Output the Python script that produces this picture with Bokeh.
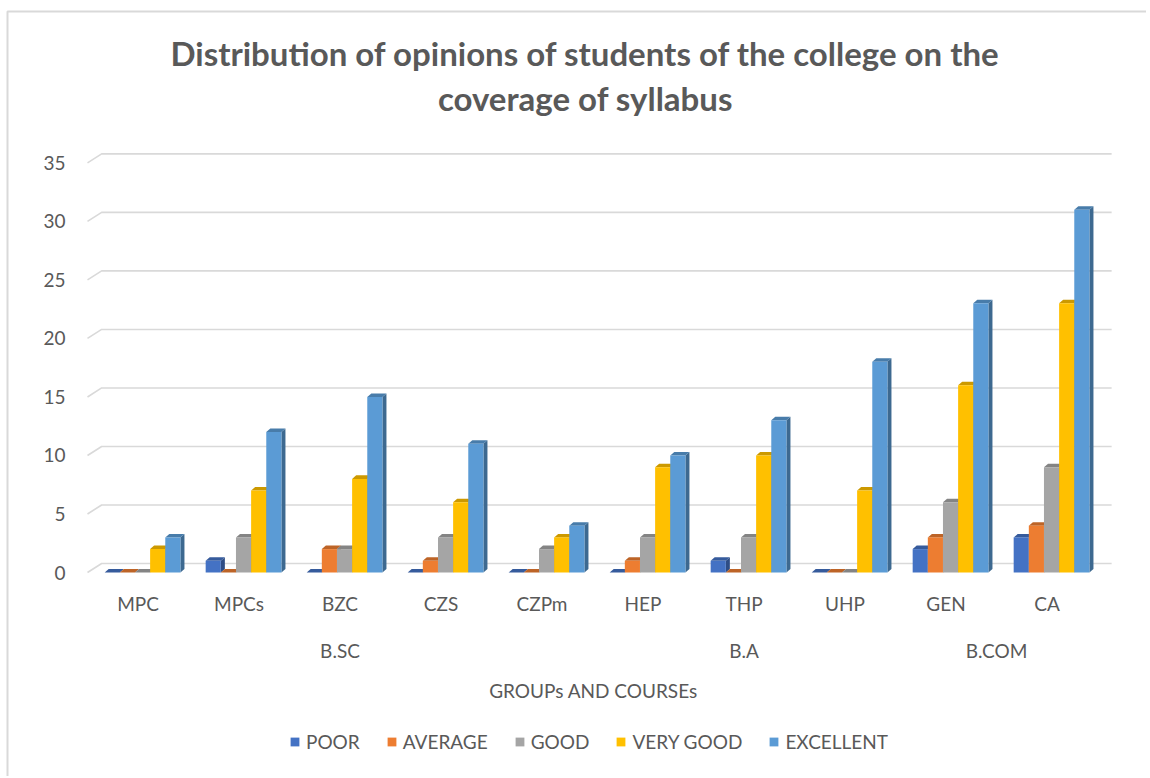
import numpy as np
from bokeh.plotting import figure
from bokeh.models import Range1d, FixedTicker, LinearAxis, Legend, LegendItem
from bokeh.core.properties import value
from bokeh.embed import file_html
from bokeh.resources import INLINE

# ---------------- data ----------------
categories = ["MPC", "MPCs", "BZC", "CZS", "CZPm", "HEP", "THP", "UHP", "GEN", "CA"]
groups = ["B.SC", "B.A", "B.COM"]
group_members = [["MPC", "MPCs", "BZC", "CZS", "CZPm"], ["HEP", "THP", "UHP"], ["GEN", "CA"]]
series_names = ["POOR", "AVERAGE", "GOOD", "VERY GOOD", "EXCELLENT"]
poor = [0, 1, 0, 0, 0, 0, 1, 0, 2, 3]
average = [0, 0, 2, 1, 0, 1, 0, 0, 3, 4]
good = [0, 3, 2, 3, 2, 3, 3, 0, 6, 9]
very_good = [2, 7, 8, 6, 3, 9, 10, 7, 16, 23]
excellent = [3, 12, 15, 11, 4, 10, 13, 18, 23, 31]
y_ticks = [0, 5, 10, 15, 20, 25, 30, 35]
title_lines = ["Distribution of opinions of students of the college on the",
               "coverage of syllabus"]
x_title = "GROUPs AND COURSEs"

# ---------------- style / layout ----------------
colors = ["#4472C4", "#ED7D31", "#A5A5A5", "#FFC000", "#5B9BD5"]
TEXT = "#595959"
GRID = "#D9D9D9"
FONT = "Lato"
W, H = 1146, 776          # canvas size (px)
X0PX, PXX = 87.0, 101.0   # pixel of category-axis start, px per category
Y0PX, PXY = 572.0, 11.703 # pixel of value 0, px per unit


def dx(px):
    return (px - X0PX) / PXX


def dy(py):
    return (Y0PX - py) / PXY


def shade(hex_color, f):
    h = hex_color.lstrip("#")
    r, g, b = (int(h[i:i + 2], 16) for i in (0, 2, 4))
    return "#%02x%02x%02x" % (int(r * f), int(g * f), int(b * f))


series = [poor, average, good, very_good, excellent]
n_cat = len(categories)

BAR_W = 0.15
BAR_OFF = 0.17
BDX, BDY = 0.04, 0.30      # bar depth
WDX, WDY = 0.14, 0.77      # back-wall depth

p = figure(width=W, height=H,
           x_range=Range1d(dx(0), dx(W)), y_range=Range1d(dy(H), dy(0)),
           x_axis_type=None, y_axis_type=None,
           output_backend="svg", toolbar_location=None,
           min_border_left=0, min_border_right=0, min_border_top=0, min_border_bottom=0)
p.outline_line_color = None
p.background_fill_color = "white"
p.border_fill_color = "white"

# chart border (left and top edges visible)
p.line([dx(7), dx(7), dx(W)], [dy(H), dy(11), dy(11)], line_color=GRID, line_width=2)

# back-wall gridlines
gx = [[0, WDX, n_cat + WDX] for _ in y_ticks]
gy = [[v, v + WDY, v + WDY] for v in y_ticks]
p.multi_line(gx, gy, line_color=GRID, line_width=1.6)

legend_items = []
idx = np.arange(n_cat)
for k, (name, vals, col) in enumerate(zip(series_names, series, colors)):
    vals = np.array(vals, dtype=float)
    xl = idx + BAR_OFF + k * BAR_W
    xr = xl + BAR_W
    side_x = [[a, a + BDX, a + BDX, a] for a in xr]
    side_y = [[0, BDY, v + BDY, v] for v in vals]
    top_x = [[a, b, b + BDX, a + BDX] for a, b in zip(xl, xr)]
    top_y = [[v, v, v + BDY, v + BDY] for v in vals]
    p.patches(side_x, side_y, fill_color=shade(col, 0.68), line_color=None)
    p.patches(top_x, top_y, fill_color=shade(col, 0.8), line_color=None)
    r = p.quad(left=xl, right=xr, bottom=0, top=vals, fill_color=col, line_color=None)
    legend_items.append(LegendItem(label=name, renderers=[r]))

# y axis
yax = LinearAxis(fixed_location=dx(72), ticker=FixedTicker(ticks=y_ticks))
yax.axis_line_color = None
yax.major_tick_line_color = None
yax.minor_tick_line_color = None
yax.major_tick_out = 0
yax.major_label_standoff = 7
yax.major_label_text_font = FONT
yax.major_label_text_font_size = "19px"
yax.major_label_text_color = TEXT
p.add_layout(yax, "left")

# x axis (categories)
xax = LinearAxis(fixed_location=dy(578), ticker=FixedTicker(ticks=[i + 0.5 for i in range(n_cat)]))
xax.major_label_overrides = {i + 0.5: c for i, c in enumerate(categories)}
xax.axis_line_color = None
xax.major_tick_line_color = None
xax.minor_tick_line_color = None
xax.major_tick_out = 0
xax.major_label_standoff = 13
xax.major_label_text_font = FONT
xax.major_label_text_font_size = "19px"
xax.major_label_text_color = TEXT
p.add_layout(xax, "below")

# group labels
gpos = [float(np.mean([categories.index(m) + 0.5 for m in members])) for members in group_members]
p.text(x=gpos, y=[dy(650)] * len(groups), text=groups, text_align="center",
       text_baseline="middle", text_font=value(FONT), text_font_size="19px",
       text_color=TEXT)

# axis title
p.text(x=[dx(593)], y=[dy(690)], text=[x_title], text_align="center",
       text_baseline="middle", text_font=value(FONT), text_font_size="19px",
       text_color=TEXT)

# title
p.text(x=[dx(585)] * 2, y=[dy(52), dy(97)], text=title_lines, text_align="center",
       text_baseline="middle", text_font=value(FONT), text_font_size="33px",
       text_font_style="bold", text_color=TEXT)

legend = Legend(items=legend_items, orientation="horizontal", location=(289, H - 753),
                glyph_width=11, glyph_height=11, label_standoff=6, spacing=26,
                label_height=20, padding=0, margin=0, border_line_color=None,
                background_fill_alpha=0,
                label_text_font=FONT, label_text_font_size="19px", label_text_color=TEXT)
p.add_layout(legend, "center")

open("out.html", "w").write(file_html(p, INLINE))
